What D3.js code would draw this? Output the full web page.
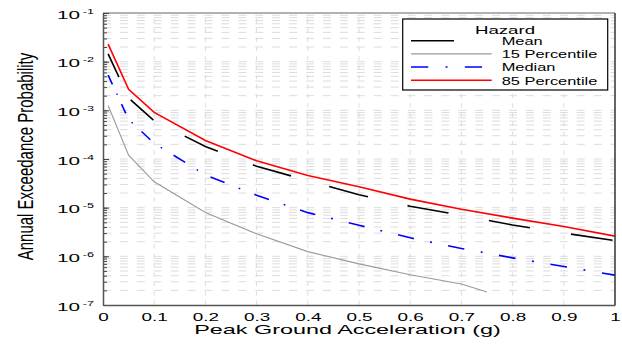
<!DOCTYPE html>
<html><head><meta charset="utf-8">
<script src="https://cdn.jsdelivr.net/npm/d3@7"></script>
<style>
html,body{margin:0;padding:0;background:#fff;}
text{font-family:"Liberation Sans",Arial,sans-serif;fill:#000;}
</style></head>
<body>
<svg id="c" width="622" height="347"></svg>
<script>
// ---- data ----
const pga = [0.01, 0.05, 0.1, 0.2, 0.3, 0.4, 0.5, 0.6, 0.7, 0.8, 0.9, 1.0];
const mean = [1.44e-2, 1.8e-3, 6.1e-4, 1.8e-4, 7.1e-5, 3.6e-5, 1.85e-5, 1.07e-5, 7.0e-6, 4.4e-6, 3.0e-6, 2.1e-6];
const median = [5.3e-3, 6.5e-4, 2.1e-4, 4.7e-5, 1.8e-5, 7.9e-6, 4.35e-6, 2.4e-6, 1.45e-6, 9.3e-7, 6.2e-7, 4.1e-7];
const p85 = [2.3e-2, 2.7e-3, 9.1e-4, 2.4e-4, 9.2e-5, 4.6e-5, 2.7e-5, 1.5e-5, 9.3e-6, 6.1e-6, 4.1e-6, 2.6e-6];
const pga15 = [0.01, 0.05, 0.1, 0.2, 0.3, 0.4, 0.5, 0.6, 0.7, 0.75];
const p15 = [1.26e-3, 1.2e-4, 3.4e-5, 8.0e-6, 2.9e-6, 1.25e-6, 7.0e-7, 4.2e-7, 2.7e-7, 1.85e-7];
const xTicks = [0, 0.1, 0.2, 0.3, 0.4, 0.5, 0.6, 0.7, 0.8, 0.9, 1];
const xTickLabels = ["0", "0.1", "0.2", "0.3", "0.4", "0.5", "0.6", "0.7", "0.8", "0.9", "1"];
const yTickExps = [-7, -6, -5, -4, -3, -2, -1];
const seriesNames = ["Mean", "15 Percentile", "Median", "85 Percentile"];
const legendTitle = "Hazard";
const xLabel = "Peak Ground Acceleration (g)";
const yLabel = "Annual Exceedance Probability";

// ---- layout ----
const L = 103, R = 615, T = 13, B = 305;
const SX = 1.8; // horizontal stretch of the original figure
const svg = d3.select("#c");
const x = d3.scaleLinear().domain([0, 1]).range([L, R]);
const y = d3.scaleLog().domain([1e-7, 1e-1]).range([B, T]);

// dash generator: pattern lengths measured in unstretched space
function dashPath(pts, pattern) {
  let d = "M" + pts[0][0] + "," + pts[0][1];
  let pi = 0, remain = pattern[0], on = true;
  for (let i = 1; i < pts.length; i++) {
    const a = pts[i - 1], b = pts[i];
    const len = Math.hypot((b[0] - a[0]) / SX, b[1] - a[1]);
    let t = 0;
    while (len - t > remain) {
      t += remain;
      const f = t / len;
      const px = a[0] + (b[0] - a[0]) * f, py = a[1] + (b[1] - a[1]) * f;
      d += (on ? "L" : "M") + px + "," + py;
      on = !on;
      pi = (pi + 1) % pattern.length;
      remain = pattern[pi];
    }
    remain -= (len - t);
    if (on) d += "L" + b[0] + "," + b[1];
  }
  return d;
}

// ---- grid ----
const grid = svg.append("g");
const minorVals = [];
for (let e = -7; e < -1; e++) for (let k = 1; k <= 9; k++) {
  const v = k * Math.pow(10, e);
  if (v > 1e-7 && v < 1e-1) minorVals.push(v);
}
grid.selectAll("line.h").data(minorVals).join("line")
  .attr("x1", L).attr("x2", R)
  .attr("y1", d => y(d)).attr("y2", d => y(d))
  .attr("stroke", "#dcdcdc").attr("stroke-width", 1)
  .attr("stroke-dasharray", (4.4 * SX) + "," + (5 * SX));
grid.selectAll("line.v").data(xTicks.slice(1, -1)).join("line")
  .attr("x1", d => x(d)).attr("x2", d => x(d))
  .attr("y1", B).attr("y2", T)
  .attr("stroke", "#dcdcdc").attr("stroke-width", 1)
  .attr("stroke-dasharray", "4.4,5");

// ---- series ----
svg.append("clipPath").attr("id", "clip").append("rect")
  .attr("x", L).attr("y", T).attr("width", R - L).attr("height", B - T);
const plot = svg.append("g").attr("clip-path", "url(#clip)");
const line = d3.line().x(d => x(d[0])).y(d => y(d[1]));
const zip = (xs, ys) => xs.map((v, i) => [v, ys[i]]);
const toPts = (xs, ys) => xs.map((v, i) => [x(v), y(ys[i])]);

const meanPat = [23.9, 23.7];
const medPat = [9.6, 9.6, 1.1, 9.6];

plot.append("path").attr("d", line(zip(pga15, p15)))
  .attr("fill", "none").attr("stroke", "#9a9a9a").attr("stroke-width", 1.1);
plot.append("path").attr("d", dashPath(toPts(pga, median), medPat))
  .attr("fill", "none").attr("stroke", "#0000ff").attr("stroke-width", 1.6);
plot.append("path").attr("d", dashPath(toPts(pga, mean), meanPat))
  .attr("fill", "none").attr("stroke", "#000").attr("stroke-width", 1.6);
plot.append("path").attr("d", line(zip(pga, p85)))
  .attr("fill", "none").attr("stroke", "#ff0000").attr("stroke-width", 1.6);

// ---- axes ----
// frame top / right
svg.append("line").attr("x1", L).attr("x2", R).attr("y1", T).attr("y2", T)
  .attr("stroke", "#999").attr("stroke-width", 1.5);
svg.append("line").attr("x1", R).attr("x2", R).attr("y1", T).attr("y2", B)
  .attr("stroke", "#333").attr("stroke-width", 1.5);

// y axis minor ticks
const yMinor = svg.append("g").attr("transform", `translate(${L},0)`)
  .call(d3.axisLeft(y).tickValues(minorVals).tickSize(-4).tickFormat(""));
yMinor.select(".domain").remove();
yMinor.selectAll(".tick line").attr("stroke", "#444");
// y axis major
const yMajorVals = yTickExps.map(e => Math.pow(10, e));
const yAx = svg.append("g").attr("transform", `translate(${L},0)`)
  .call(d3.axisLeft(y).tickValues(yMajorVals).tickSize(-6).tickSizeOuter(0).tickFormat(""));
yAx.select(".domain").attr("stroke", "#555").attr("stroke-width", 1.5);
yAx.selectAll(".tick line").attr("stroke", "#444");
yAx.selectAll(".tick").each(function (d, i) {
  const t = d3.select(this).append("text")
    .attr("text-anchor", "end")
    .attr("transform", `translate(-9,5) scale(${SX},1)`)
    .attr("font-size", 11.5).attr("fill", "#000");
  t.append("tspan").text("10");
  t.append("tspan").attr("font-size", 7).attr("dx", 1.5).attr("dy", -5).text(String(yTickExps[i]));
});

// x axis
const xAx = svg.append("g").attr("transform", `translate(0,${B})`)
  .call(d3.axisBottom(x).tickValues(xTicks).tickSize(0).tickSizeOuter(0)
    .tickFormat((d, i) => xTickLabels[i]));
xAx.select(".domain").attr("stroke", "#555").attr("stroke-width", 1.5);
xAx.selectAll(".tick text")
  .attr("y", 0).attr("dy", 0)
  .attr("transform", `translate(0,15.5) scale(${SX},1)`)
  .attr("font-size", 10.5).attr("font-family", '"Liberation Sans",Arial,sans-serif')
  .attr("fill", "#000");

// axis labels
svg.append("text").text(xLabel)
  .attr("text-anchor", "middle")
  .attr("transform", `translate(347.5,334) scale(${SX},1)`)
  .attr("font-size", 13);
svg.append("text").text(yLabel)
  .attr("text-anchor", "middle")
  .attr("transform", `translate(33,156.5) rotate(-90) scale(1,1.45)`)
  .attr("font-size", 15);

// ---- legend ----
const lg = svg.append("g");
lg.append("rect").attr("x", 402.7).attr("y", 19).attr("width", 205).attr("height", 71)
  .attr("fill", "#fff").attr("stroke", "#000").attr("stroke-width", 1.2);
lg.append("text").text(legendTitle).attr("text-anchor", "middle")
  .attr("transform", `translate(505,34) scale(1.78,1)`).attr("font-size", 10.5);
const legStyles = [
  {c: "#000", w: 1.5, pat: meanPat},
  {c: "#9a9a9a", w: 1.1, pat: null},
  {c: "#0000ff", w: 1.5, pat: medPat},
  {c: "#ff0000", w: 1.5, pat: null}
];
seriesNames.forEach((name, i) => {
  const cy = 40.7 + i * 13.2;
  const pts = [[411, cy], [491.7, cy]];
  const s = legStyles[i];
  lg.append("path").attr("d", s.pat ? dashPath(pts, s.pat) : d3.line()(pts))
    .attr("fill", "none").attr("stroke", s.c).attr("stroke-width", s.w);
  lg.append("text").text(name)
    .attr("transform", `translate(501.7,${cy + 4.2}) scale(1.56,1)`)
    .attr("font-size", 10.5);
});
</script>
</body></html>
